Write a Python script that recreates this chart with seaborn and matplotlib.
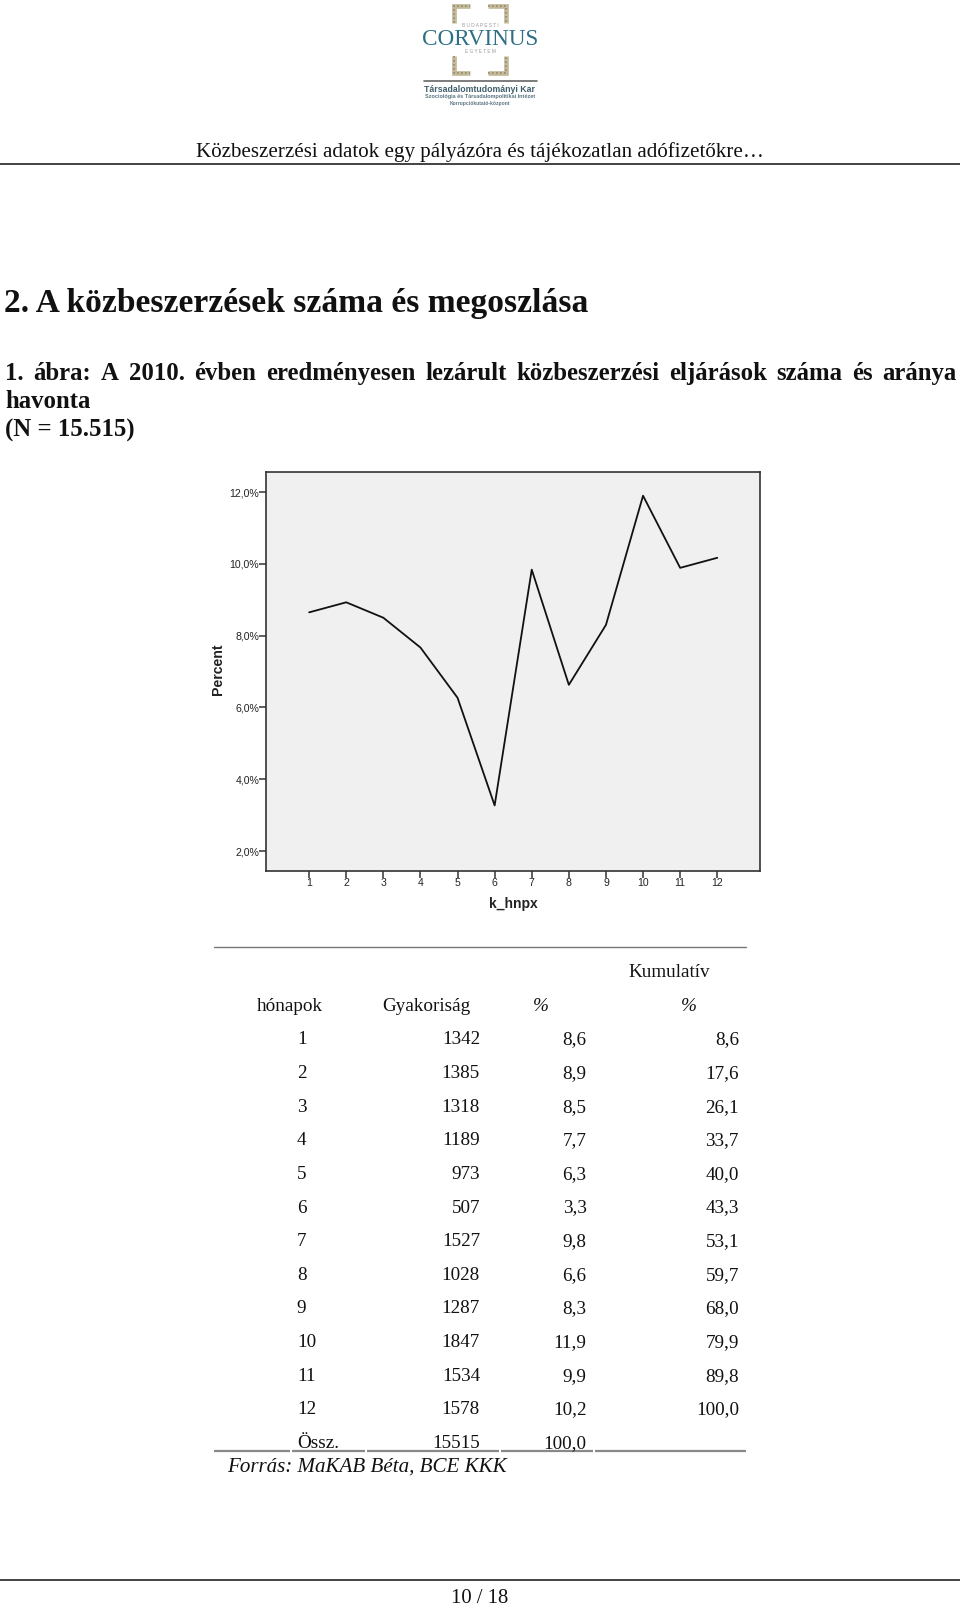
import matplotlib
matplotlib.use("Agg")
import matplotlib.pyplot as plt
import seaborn as sns
import pandas as pd

months = [1, 2, 3, 4, 5, 6, 7, 8, 9, 10, 11, 12]
percent_line = [8.65, 8.93, 8.5, 7.67, 6.27, 3.27, 9.84, 6.63, 8.3, 11.9, 9.89, 10.17]
y_ticks = [2, 4, 6, 8, 10, 12]
y_labels = ["2,0%", "4,0%", "6,0%", "8,0%", "10,0%", "12,0%"]
freq = ["1342", "1385", "1318", "1189", "973", "507", "1527", "1028", "1287", "1847", "1534", "1578", "15515"]
pct = ["8,6", "8,9", "8,5", "7,7", "6,3", "3,3", "9,8", "6,6", "8,3", "11,9", "9,9", "10,2", "100,0"]
cum = ["8,6", "17,6", "26,1", "33,7", "40,0", "43,3", "53,1", "59,7", "68,0", "79,9", "89,8", "100,0", ""]
row_names = [str(m) for m in months] + ["Össz."]

sns.set_theme(style="white")
plt.rcParams["font.family"] = ["Liberation Serif", "DejaVu Sans"]
W, H = 960, 1605
fig = plt.figure(figsize=(W / 100, H / 100), dpi=100, facecolor="white")

# page overlay, coordinates in page pixels of a 938 x 1568 page
pg = fig.add_axes([0, 0, 1, 1])
pg.set_xlim(0, 938); pg.set_ylim(1568, 0); pg.axis("off")
SER = "Liberation Serif"
def t(x, y, s, size=13.8, ha="left", **kw):
    kw.setdefault("color", "#111111")
    return pg.text(x, y, s, fontsize=size, ha=ha, va="center_baseline", family=SER, **kw)

def justified(x0, x1, y, s, size, **kw):
    """Set a line of words so that it fills x0..x1, as the justified page text does."""
    rend = fig.canvas.get_renderer()
    k = 938 / W
    words = s.split(" ")
    items = [t(x0, y, w, size, **kw) for w in words]
    widths = [it.get_window_extent(rend).width * k for it in items]
    gap = (x1 - x0 - sum(widths)) / (len(words) - 1)
    x = x0
    for it, w in zip(items, widths):
        it.set_x(x)
        x += w + gap

# logo: four corner ornaments
ORN = "#c4b998"
for xs, ys in [([444, 444, 459], [22, 6, 6]), ([477, 494, 494], [6, 6, 22]),
               ([444, 444, 459], [55, 71, 71]), ([477, 494, 494], [71, 71, 55])]:
    pg.plot(xs, ys, color=ORN, lw=3.4, solid_capstyle="butt", solid_joinstyle="miter")
    pg.plot(xs, ys, color="#8f8a70", lw=1.2, ls=(0, (1, 1.4)))
pg.text(469, 38.4, "CORVINUS", fontsize=16.7, ha="center", va="center", family=SER, color="#2f6f86")
pg.text(469, 25.4, "B U D A P E S T I", fontsize=3.4, ha="center", va="center", family="Liberation Sans", color="#999999")
pg.text(469, 50, "E G Y E T E M", fontsize=3.4, ha="center", va="center", family="Liberation Sans", color="#999999")
pg.plot([414, 525], [79, 79], color="#666666", lw=1.2)
pg.text(469, 87, "Társadalomtudományi Kar", fontsize=6.3, weight="bold", ha="center", va="center", family="Liberation Sans", color="#3f5f6a")
pg.text(469, 94.5, "Szociológia és Társadalompolitikai Intézet", fontsize=4.0, weight="bold", ha="center", va="center", family="Liberation Sans", color="#5a7680")
pg.text(469, 101, "Korrupciókutató-központ", fontsize=3.6, weight="bold", ha="center", va="center", family="Liberation Sans", color="#5a7680")

t(469, 146.5, "Közbeszerzési adatok egy pályázóra és tájékozatlan adófizetőkre…", 15.1, ha="center")
pg.plot([0, 938], [160.5, 160.5], color="#222222", lw=1.2)
t(4, 293, "2. A közbeszerzések száma és megoszlása", 24.1, weight="bold")
justified(5, 935, 362, "1. ábra: A 2010. évben eredményesen lezárult közbeszerzési eljárások száma és aránya", 17.8, weight="bold")
t(5, 390, "havonta", 17.8, weight="bold")
t(5, 418, "(N = 15.515)", 17.8, weight="bold")

# table
t(654, 948, "Kumulatív", ha="center")
t(283, 981, "hónapok", ha="center")
t(417, 981, "Gyakoriság", ha="center")
t(528, 981, "%", ha="center", style="italic")
t(673, 981, "%", ha="center", style="italic")
for i, (n, f, p, c) in enumerate(zip(row_names, freq, pct, cum)):
    y = 1014 + i * 32.85
    t(290, y, n)
    t(469, y, f, ha="right")
    t(573, y, p, ha="right")
    t(722, y, c, ha="right")
pg.plot([209, 729], [925.5, 925.5], color="#777777", lw=1)
for a, b in [(209, 283), (285, 357), (359, 488), (490, 579), (581, 729)]:
    pg.plot([a, b], [1418, 1418], color="#888888", lw=1.6, solid_capstyle="butt")
t(222, 1431, "Forrás: MaKAB Béta, BCE KKK", 15.1, style="italic")
pg.plot([0, 938], [1544, 1544], color="#222222", lw=1.2)
t(469, 1559, "10 / 18", 14.9, ha="center")

# chart
S = 1 / 938
ax = fig.add_axes([260 * S, 1 - 850.5 / 1568, (742.5 - 260) * S, (850.5 - 461.5) / 1568])
ax.set_facecolor("#f0f0f0")
df = pd.DataFrame({"k_hnpx": months, "Percent": percent_line})
sns.lineplot(data=df, x="k_hnpx", y="Percent", color="#111111", lw=1.3, ax=ax, errorbar=None)
ax.set_xlim(-0.16, 13.15)
ax.set_ylim(1.455, 12.55)
ax.set_xticks(months)
ax.set_xticklabels([str(m) for m in months])
ax.set_yticks(y_ticks)
ax.set_yticklabels(y_labels)
SANS = "Liberation Sans"
ax.tick_params(axis="both", length=5, width=1.1, color="#333333", direction="out", left=True, bottom=True, labelsize=7.6, labelcolor="#222222", pad=0)
for l in ax.get_xticklabels() + ax.get_yticklabels():
    l.set_family(SANS)
for s in ax.spines.values():
    s.set_visible(True); s.set_color("#333333"); s.set_linewidth(1.2)
ax.set_xlabel("k_hnpx", fontsize=10, weight="bold", family=SANS, color="#222222", labelpad=7)
ax.set_ylabel("Percent", fontsize=10.2, weight="bold", family=SANS, color="#222222", labelpad=3, y=0.505)

fig.savefig("out.png", dpi=100, facecolor="white")
